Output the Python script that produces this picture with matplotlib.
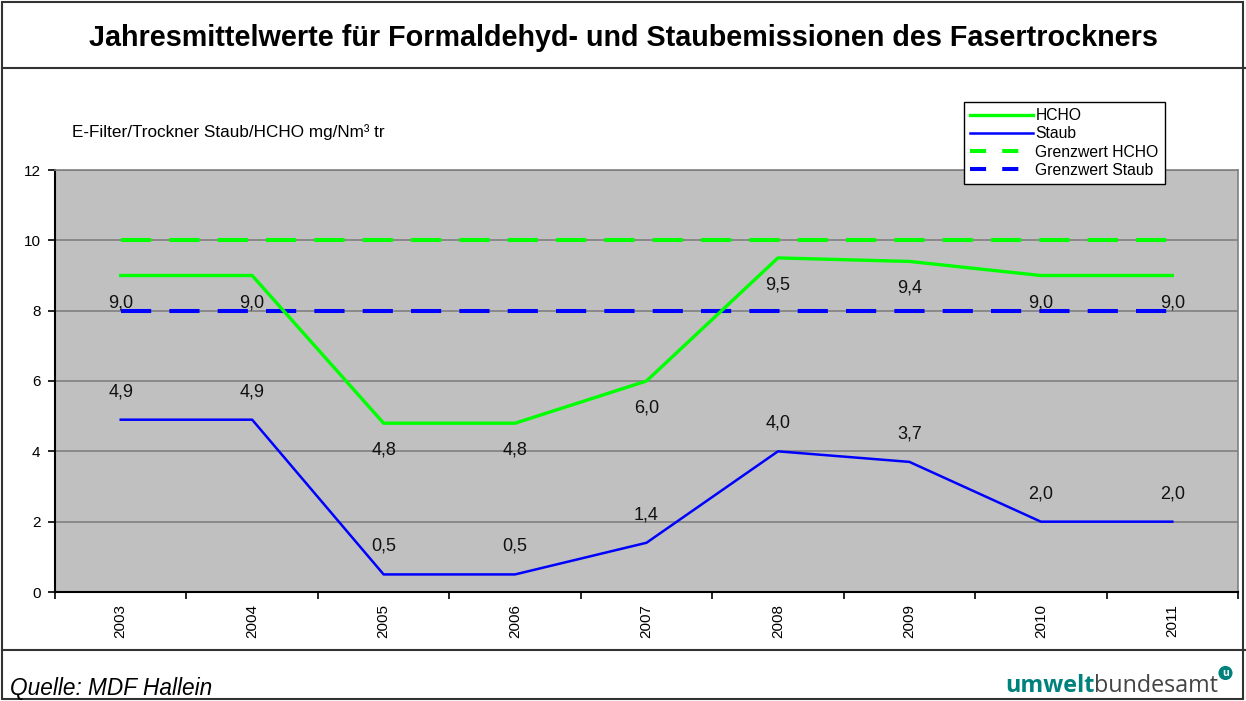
import matplotlib
matplotlib.use("Agg")
import matplotlib.pyplot as plt
from matplotlib.lines import Line2D
from matplotlib.patches import Rectangle
import numpy as np

plt.rcParams['font.family'] = ['Liberation Sans', 'DejaVu Sans']

years = ["2003", "2004", "2005", "2006", "2007", "2008", "2009", "2010", "2011"]
hcho = [9.0, 9.0, 4.8, 4.8, 6.0, 9.5, 9.4, 9.0, 9.0]
staub = [4.9, 4.9, 0.5, 0.5, 1.4, 4.0, 3.7, 2.0, 2.0]
grenz_hcho = [10.0] * 9
grenz_staub = [8.0] * 9
yticks = [0, 2, 4, 6, 8, 10, 12]

W, H = 1246, 701
fig = plt.figure(figsize=(W / 100, H / 100), dpi=100)

def fx(px):
    return px / W

def fy(py):
    return 1 - py / H

ax = fig.add_axes([fx(55), fy(592), fx(1238) - fx(55), fy(170) - fy(592)])
ax.set_facecolor('#c0c0c0')
x = np.arange(len(years))

ax.set_xlim(-0.5, len(years) - 0.5)
ax.set_ylim(0, 12)
ax.set_yticks(yticks)
ax.set_yticklabels([str(t) for t in yticks], fontsize=11)
ax.grid(axis='y', color='#808080', linewidth=1.2)
ax.set_axisbelow(True)

ax.set_xticks(x)
ax.set_xticklabels(years, rotation=90, fontsize=11)
ax.tick_params(axis='x', which='major', length=0, pad=9)
ax.set_xticks(np.arange(-0.5, len(years), 1), minor=True)
ax.tick_params(axis='x', which='minor', length=5, width=1.2, direction='out')
ax.tick_params(axis='y', length=5, width=1.2, direction='out', pad=5.5)

for s in ['top', 'right']:
    ax.spines[s].set_color('#808080')
    ax.spines[s].set_linewidth(1.2)
for s in ['left', 'bottom']:
    ax.spines[s].set_color('#000000')
    ax.spines[s].set_linewidth(1.5)

dash = (7.5, 4.5)
ax.plot(x, grenz_hcho, color='#00ff00', lw=2.9, dashes=dash, label='Grenzwert HCHO', zorder=3)
ax.plot(x, grenz_staub, color='#0000ff', lw=2.9, dashes=dash, label='Grenzwert Staub', zorder=3)
l1, = ax.plot(x, hcho, color='#00ff00', lw=2.4, label='HCHO', zorder=4)
l2, = ax.plot(x, staub, color='#0000ff', lw=1.8, label='Staub', zorder=4)

def fmt(v):
    return f"{v:.1f}".replace('.', ',')

for xi, v in zip(x, hcho):
    ax.annotate(fmt(v), (xi, v), xytext=(0, -27), textcoords='offset pixels',
                ha='center', va='center', fontsize=13, color='#111111', zorder=6)
for xi, v in zip(x, staub):
    ax.annotate(fmt(v), (xi, v), xytext=(0, 28), textcoords='offset pixels',
                ha='center', va='center', fontsize=13, color='#111111', zorder=6)

# Legend
handles = [l1, l2,
           Line2D([0], [0], color='#00ff00', lw=2.9, dashes=(4, 4)),
           Line2D([0], [0], color='#0000ff', lw=2.9, dashes=(4, 4))]
labels = ['HCHO', 'Staub', 'Grenzwert HCHO', 'Grenzwert Staub']
leg = fig.legend(handles, labels, loc='upper left',
                 bbox_to_anchor=(fx(964), fy(102)), frameon=True, fancybox=False,
                 edgecolor='#000000', framealpha=1, fontsize=11.3,
                 handlelength=4.0, handletextpad=0.15, labelspacing=0.2,
                 borderpad=0.4, borderaxespad=0)
leg.get_frame().set_linewidth(1.0)
leg.set_zorder(10)

# Frames
fig.add_artist(Rectangle((fx(2), fy(699)), fx(1243) - fx(2), fy(2) - fy(699),
                         fill=False, edgecolor='#333333', lw=1.5, transform=fig.transFigure))
fig.add_artist(Line2D([fx(2), fx(1245)], [fy(68), fy(68)], color='#333333', lw=1.5,
                      transform=fig.transFigure))
fig.add_artist(Line2D([fx(2), fx(1245)], [fy(650), fy(650)], color='#333333', lw=1.5,
                      transform=fig.transFigure))

fig.text(0.5, fy(38), 'Jahresmittelwerte für Formaldehyd- und Staubemissionen des Fasertrockners',
         ha='center', va='center', fontsize=20.7, fontweight='bold')
fig.text(fx(72), fy(132), 'E-Filter/Trockner Staub/HCHO mg/Nm³ tr',
         ha='left', va='center', fontsize=12.3)
fig.text(fx(10), fy(688), 'Quelle: MDF Hallein', ha='left', va='center',
         fontsize=16.3, fontstyle='italic')

teal = '#00827c'
t1 = fig.text(fx(1005), fy(686), 'umwelt', ha='left', va='center', fontsize=16.8,
              fontweight='bold', color=teal, family=['Open Sans', 'DejaVu Sans'])
fig.canvas.draw()
bb = t1.get_window_extent()
t2 = fig.text(bb.x1 / W, fy(686), 'bundesamt', ha='left', va='center', fontsize=16.8,
              color='#444444', family=['Open Sans', 'DejaVu Sans'])
fig.canvas.draw()
bb2 = t2.get_window_extent()
fig.text(bb2.x1 / W + 0.003, fy(673), 'u', ha='left', va='center', fontsize=7.5,
         fontweight='bold', color='white', family=['Open Sans', 'DejaVu Sans'],
         bbox=dict(boxstyle='circle,pad=0.15', fc=teal, ec='none'))

fig.savefig('out.png', dpi=100)
